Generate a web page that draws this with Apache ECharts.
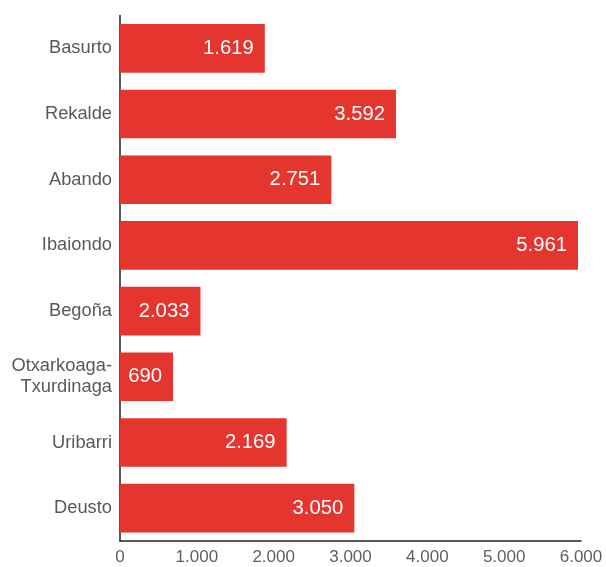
<!DOCTYPE html>
<html><head><meta charset="utf-8">
<script src="https://cdn.jsdelivr.net/npm/echarts@6/dist/echarts.min.js"></script>
<style>html,body{margin:0;padding:0;background:#fff}#c{width:606px;height:567px}</style>
</head><body><div id="c"></div>
<script>
const categories = ["Basurto","Rekalde","Abando","Ibaiondo","Begoña","Otxarkoaga-\nTxurdinaga","Uribarri","Deusto"];
// bar lengths as drawn in the picture
const barValues = [1885, 3592, 2751, 5961, 1047, 690, 2169, 3050];
// numbers printed on the bars
const labelValues = [1619, 3592, 2751, 5961, 2033, 690, 2169, 3050];
const xTicks = [0, 1000, 2000, 3000, 4000, 5000, 6000];
function fmt(v){ return String(v).replace(/\B(?=(\d{3})+(?!\d))/g, "."); }
const FF = "'Liberation Sans', Arial, sans-serif";
const chart = echarts.init(document.getElementById('c'));
chart.setOption({
  animation: false,
  grid: {left: 120, right: 25, top: 15.5, bottom: 26, containLabel: false},
  xAxis: {
    type: 'value', min: xTicks[0], max: xTicks[xTicks.length-1], interval: 1000,
    axisLine: {show: true, lineStyle: {color: '#222', width: 1.5}},
    axisTick: {show: false}, splitLine: {show: false},
    axisLabel: {color: '#606060', fontSize: 17, fontFamily: FF, margin: 8, formatter: fmt}
  },
  yAxis: {
    type: 'category', data: categories, inverse: true,
    axisLine: {show: true, lineStyle: {color: '#222', width: 1.5}},
    axisTick: {show: false},
    axisLabel: {color: '#595959', fontSize: 18.3, fontFamily: FF, margin: 8, lineHeight: 21}
  },
  series: [{
    type: 'bar', data: barValues, barCategoryGap: '26%',
    itemStyle: {color: '#e5352f'},
    label: {show: true, position: 'insideRight', distance: 11, color: '#fff', fontSize: 20.3,
      fontFamily: FF, formatter: p => fmt(labelValues[p.dataIndex])}
  }]
});
</script></body></html>
